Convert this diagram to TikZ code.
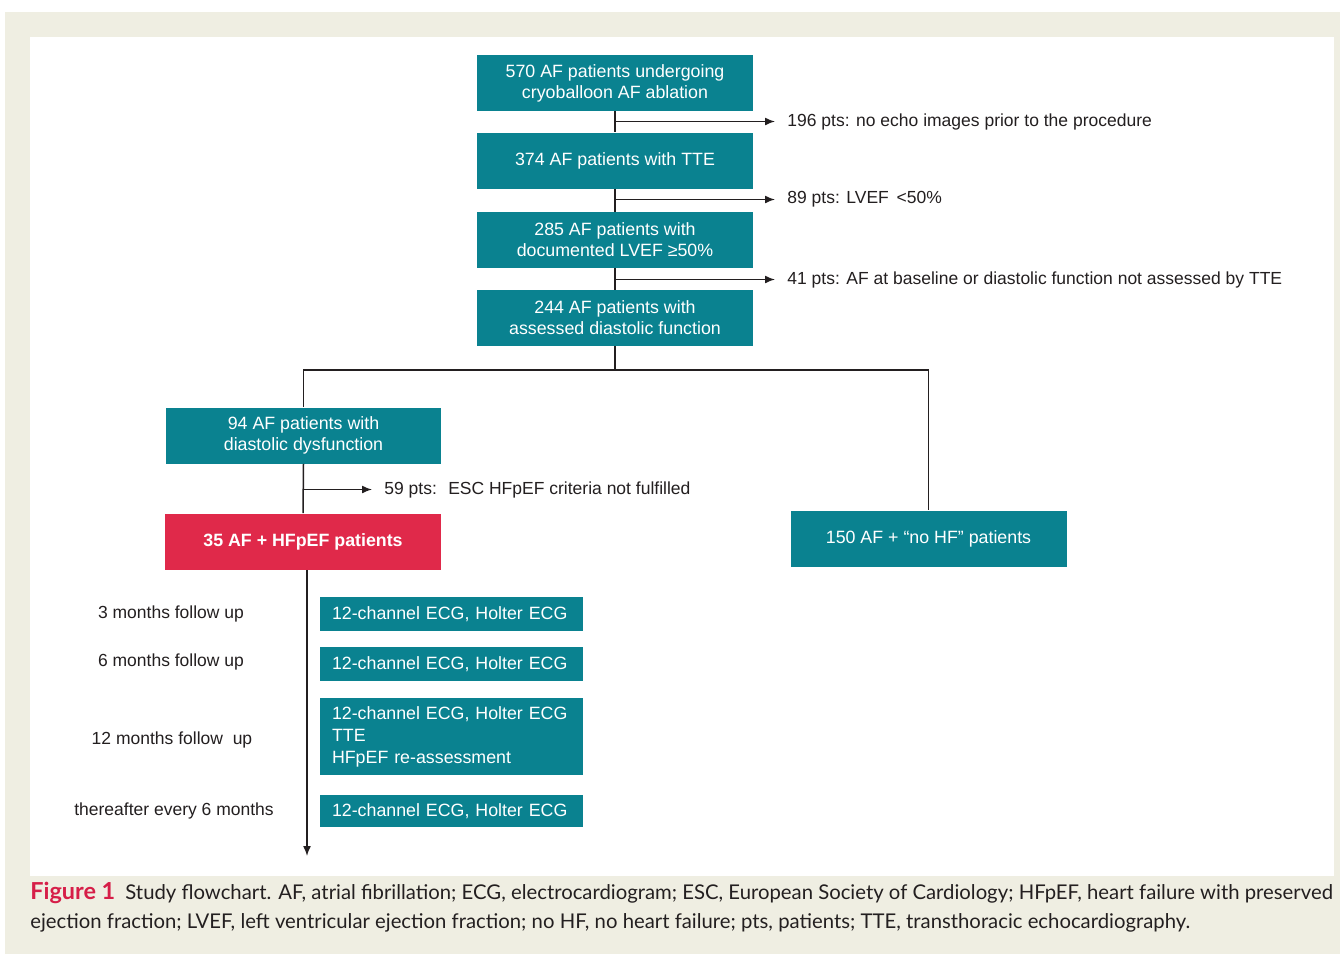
\documentclass[tikz,border=0pt]{standalone}
\usepackage{fontspec}
\setmainfont{Liberation Sans}
\newfontfamily\capfont{Lato}
\usetikzlibrary{arrows.meta}
\definecolor{tealbox}{RGB}{10,130,144}
\definecolor{redbox}{RGB}{224,41,74}
\definecolor{beige}{RGB}{239,238,226}
\definecolor{ink}{RGB}{35,31,32}
\definecolor{figred}{RGB}{214,30,72}
\begin{document}
\begin{tikzpicture}[x=0.5pt,y=-0.5pt,
  box/.style={fill=tealbox,text=white,minimum width=138pt,minimum height=28pt,inner sep=0pt,align=center,font=\fontsize{8.9}{10.6}\selectfont},
  redb/.style={box,fill=redbox,font=\bfseries\fontsize{8.9}{10.6}\selectfont},
  fbox/.style={fill=tealbox,text=white,minimum width=131.5pt,text width=119.5pt,inner xsep=6pt,inner ysep=0pt,align=left,font=\fontsize{8.9}{11}\selectfont},
  lab/.style={text=ink,inner sep=0pt,font=\fontsize{8.75}{10.5}\selectfont},
  conn/.style={draw=ink,line width=0.75pt},
  arr/.style={conn,-{Latex[length=5pt,width=4pt]},shorten >=6pt}]
\fill[beige] (5,12) rectangle (1340,954);
\fill[white] (30,37) rectangle (1334,876);
\useasboundingbox (0,0) rectangle (1344,954);

% main column
\node[box] (b1) at (615,83) {570 AF patients undergoing\\cryoballoon AF ablation};
\node[box] (b2) at (615,160.5) {374 AF patients with TTE};
\node[box] (b3) at (615,240) {285 AF patients with\\documented LVEF ≥50\%};
\node[box] (b4) at (615,318) {244 AF patients with\\assessed diastolic function};

\node[lab,anchor=west] (l1) at (787,121.5) {196 pts: no echo images prior to the procedure};
\node[lab,anchor=west] (l2) at (787,199.5) {89 pts: LVEF \,<50\%};
\node[lab,anchor=west] (l3) at (787,279.5) {41 pts: AF at baseline or diastolic function not assessed by TTE};

\draw[conn] (b1.south) -- (b2.north);
\draw[conn] (b2.south) -- (b3.north);
\draw[conn] (b3.south) -- (b4.north);
\draw[arr] (b1.south |- l1.west) -- (l1.west);
\draw[arr] (b2.south |- l2.west) -- (l2.west);
\draw[arr] (b3.south |- l3.west) -- (l3.west);

% branch
\node[box,minimum width=137.5pt] (b5) at (303.5,435.5) {94 AF patients with\\diastolic dysfunction};
\node[redb] (b7) at (303,541.5) {35 AF + HFpEF patients};
\node[box] (b6) at (928.5,538.5) {150 AF + “no HF” patients};
\coordinate (br) at (613,370);
\draw[conn] (b4.south) -- (b4.south |- br);
\draw[conn] (b5.north) -- (b5.north |- br) -- (b6.north |- br) -- (b6.north);
\draw[conn] (b5.south) -- (b7.north);
\node[lab,anchor=west] (l4) at (384,489.5) {59 pts: \ ESC HFpEF criteria not fulfilled};
\draw[arr] (b5.south |- l4.west) -- (l4.west);

% follow-up timeline
\coordinate (tend) at (307,856);
\draw[conn,-{Latex[length=5pt,width=4pt]}] (b7.south -| tend) -- (tend);

\node[lab] (t1) at (171,613.5) {3 months follow up};
\node[lab] (t2) at (171,661.5) {6 months follow up};
\node[lab] (t3) at (172,739.5) {12 months follow \ up};
\node[lab] (t4) at (174,810.5) {thereafter every 6 months};

\node[fbox,minimum height=17pt] (f1) at (451.5,614) {12-channel ECG, Holter ECG};
\node[fbox,minimum height=17pt] (f2) at (451.5,664) {12-channel ECG, Holter ECG};
\node[fbox,minimum height=38.5pt] (f3) at (451.5,736.5) {12-channel ECG, Holter ECG\\TTE\\HFpEF re-assessment};
\node[fbox,minimum height=16pt] (f4) at (451.5,811) {12-channel ECG, Holter ECG};

% caption
\node[anchor=west,align=left,inner sep=0pt,text=ink,font=\capfont\fontsize{10.15}{14.5}\selectfont] (cap) at (30,907.5)
  {{\color{figred}\bfseries\fontsize{11.7}{14.5}\selectfont Figure 1}\enspace Study flowchart. AF, atrial fibrillation; ECG, electrocardiogram; ESC, European Society of Cardiology; HFpEF, heart failure with preserved\\
   ejection fraction; LVEF, left ventricular ejection fraction; no HF, no heart failure; pts, patients; TTE, transthoracic echocardiography.};
\end{tikzpicture}
\end{document}
